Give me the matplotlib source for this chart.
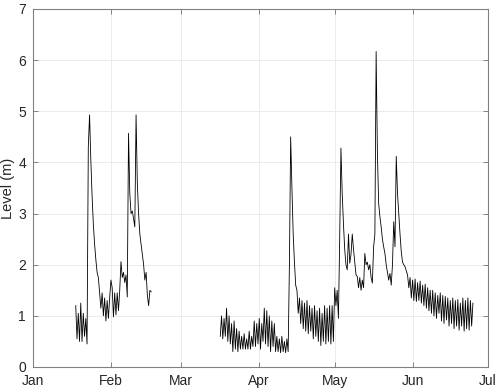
import numpy as np
import matplotlib
matplotlib.use("Agg")
import matplotlib.pyplot as plt

plt.rcParams['font.family'] = ['Liberation Sans', 'DejaVu Sans']

# Day-of-year (0 = Jan 1) of the first sample of each segment, samples every 12 h
seg1_start = 17.0
seg1_level = [
    1.2, 0.55, 1.05, 0.5, 1.25, 0.5, 1.05, 0.6, 0.95, 0.45,
    4.3, 4.93, 4.05, 3.35, 2.8, 2.4, 2.1, 1.85, 1.75, 1.45,
    1.15, 1.45, 1.0, 1.35, 0.9, 1.3, 0.95, 1.35, 1.7, 1.55,
    0.98, 1.45, 1.02, 1.45, 1.1, 1.5, 2.06, 1.75, 1.85, 1.65,
    1.8, 1.37, 4.57, 3.4, 3.0, 3.05, 2.9, 2.74, 4.93, 3.6,
    3.0, 2.6, 2.4, 2.2, 2.0, 1.7, 1.85, 1.4, 1.2, 1.5, 1.47,
]

seg2_start = 74.5
seg2_level = [
    0.6, 1.0, 0.55, 0.95, 0.6, 1.15, 0.5, 1.0, 0.45, 0.85,
    0.3, 0.9, 0.35, 0.75, 0.3, 0.7, 0.35, 0.6, 0.35, 0.65,
    0.35, 0.55, 0.35, 0.7, 0.35, 0.6, 0.4, 0.9, 0.4, 0.85,
    0.45, 0.95, 0.35, 0.85, 0.5, 1.15, 0.45, 1.1, 0.4, 1.0,
    0.3, 0.9, 0.4, 0.85, 0.3, 0.6, 0.3, 0.55, 0.28, 0.6,
    0.3, 0.5, 0.28, 0.55, 0.3, 2.0, 4.5, 3.5, 2.6, 2.05,
    1.6, 1.5, 1.05, 1.35, 0.85, 1.3, 0.75, 1.25, 0.7, 1.3,
    0.65, 1.2, 0.7, 1.15, 0.55, 1.2, 0.6, 1.1, 0.5, 1.15,
    0.42, 1.05, 0.5, 1.2, 0.45, 1.15, 0.5, 1.2, 0.45, 1.2,
    0.5, 1.55, 1.2, 1.5, 0.95, 2.5, 4.28, 3.4, 2.8, 2.3,
    2.0, 1.9, 2.6, 2.03, 2.2, 2.6, 2.3, 2.05, 1.8, 1.77,
    1.55, 1.75, 1.5, 1.7, 1.55, 2.22, 2.0, 2.05, 1.9, 2.0,
    1.75, 1.64, 2.35, 2.6, 6.17, 4.2, 3.2, 2.94, 2.74, 2.5,
    2.35, 2.22, 2.0, 1.85, 1.7, 1.83, 1.6, 2.0, 2.84, 2.35,
    4.12, 3.4, 3.0, 2.6, 2.25, 2.05, 2.0, 1.96, 1.88, 1.8,
    1.55, 1.75, 1.35, 1.7, 1.3, 1.72, 1.28, 1.65, 1.3, 1.68,
    1.25, 1.6, 1.2, 1.62, 1.15, 1.55, 1.1, 1.5, 1.05, 1.5,
    1.0, 1.45, 0.95, 1.4, 1.05, 1.45, 0.9, 1.4, 0.85, 1.38,
    0.92, 1.35, 0.8, 1.3, 0.85, 1.35, 0.75, 1.3, 0.8, 1.32,
    0.72, 1.25, 0.8, 1.35, 0.7, 1.3, 0.75, 1.35, 0.72, 1.3,
    0.8, 1.25,
]

month_days = [0, 31, 59, 90, 120, 151, 181]
month_labels = ['Jan', 'Feb', 'Mar', 'Apr', 'May', 'Jun', 'Jul']
y_ticks = [0, 1, 2, 3, 4, 5, 6, 7]

fig = plt.figure(figsize=(5.0, 3.92), dpi=100)
ax = fig.add_axes([33/500, 1 - 367/392, 455/500, 358/392])

for start, vals in [(seg1_start, seg1_level), (seg2_start, seg2_level)]:
    t = start + 0.5 * np.arange(len(vals))
    ax.plot(t, vals, color='black', linewidth=0.6)

ax.set_xlim(month_days[0], month_days[-1])
ax.set_ylim(0, 7)
ax.set_xticks(month_days)
ax.set_xticklabels(month_labels)
ax.set_yticks(y_ticks)
ax.set_ylabel('Level (m)', fontsize=10.5, color='#262626', labelpad=2)
ax.grid(True, color='#ebebeb', linewidth=0.7)
ax.set_axisbelow(True)
for s in ax.spines.values():
    s.set_color('#808080')
    s.set_linewidth(0.8)
ax.tick_params(direction='in', length=3.5, width=0.7, color='#808080',
               labelsize=10, labelcolor='#262626', top=True, right=True)
ax.tick_params(axis='x', pad=5)
ax.tick_params(axis='y', pad=5)

fig.savefig('out.png', dpi=100)
